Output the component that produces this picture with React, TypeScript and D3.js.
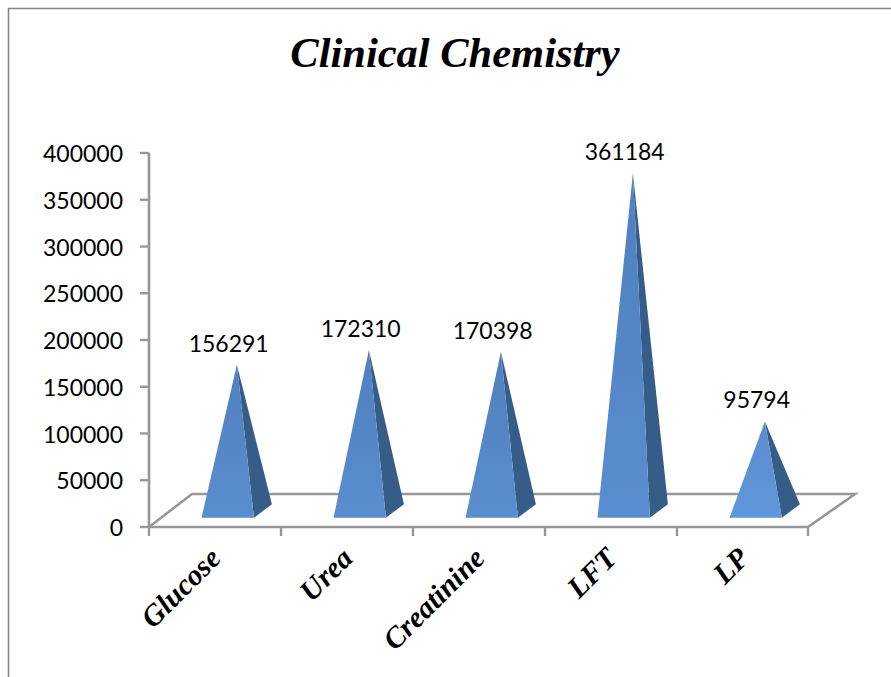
import React from "react";
import * as d3 from "d3";

const categories = ["Glucose", "Urea", "Creatinine", "LFT", "LP"];
const values = [156291, 172310, 170398, 361184, 95794];
const yTicks = [0, 50000, 100000, 150000, 200000, 250000, 300000, 350000, 400000];
const title = "Clinical Chemistry";

const W = 891, H = 677;
const x = d3.scaleBand<string>().domain(categories).range([149, 809]);
const y = d3.scaleLinear().domain([0, 400000]).range([527, 153]);
const depthX = 43, depthY = 33;
const baseHalf = 26.2, pDepthX = 18, pDepthY = 13.7;
const line = d3.line();

export default function App() {
  const grey = "#979797";
  return (
    <svg width={W} height={H} style={{ position: "absolute", left: 0, top: 0, background: "#fff" }}>
      <defs>
        <linearGradient id="front" x1="0" y1="0" x2="0" y2="1">
          <stop offset="0" stopColor="#4f80bf" />
          <stop offset="1" stopColor="#5a8dcf" />
        </linearGradient>
        <linearGradient id="frontLight" x1="0" y1="0" x2="0" y2="1">
          <stop offset="0" stopColor="#5a8dcf" />
          <stop offset="1" stopColor="#6196da" />
        </linearGradient>
      </defs>
      <path d="M8.5 677V8.5H891" fill="none" stroke="#868686" strokeWidth={1.6} />
      <text x={455} y={67} textAnchor="middle" fontFamily="Liberation Serif" fontStyle="italic" fontWeight="bold" fontSize={42.5}>{title}</text>

      {/* floor */}
      <path
        d={line([[149, y(0)], [149 + depthX, y(0) - depthY], [808 + depthX + 4, y(0) - depthY], [808, y(0)]])!}
        fill="none" stroke={grey} strokeWidth={2.6}
      />
      {/* axes */}
      <path d={line([[149, y(400000)], [149, y(0)]])!} fill="none" stroke={grey} strokeWidth={2.6} />
      <path d={line([[149, y(0)], [808, y(0)]])!} fill="none" stroke={grey} strokeWidth={2.6} />
      {yTicks.map((t) => (
        <g key={t}>
          <line x1={140} x2={149} y1={y(t)} y2={y(t)} stroke={grey} strokeWidth={2.4} />
          <text x={123} y={y(t) + 9} textAnchor="end" fontFamily="Lato" fontSize={23}>{t}</text>
        </g>
      ))}
      {[...categories.map((c) => x(c)!), 808].map((tx) => (
        <line key={tx} x1={tx} x2={tx} y1={y(0)} y2={y(0) + 9} stroke={grey} strokeWidth={2.4} />
      ))}

      {/* pyramids */}
      {categories.map((c, i) => {
        const cx = x(c)! + x.bandwidth() / 2 + 21.7;
        const v = values[i];
        const midY = y(0) - 16;
        const apex: [number, number] = [cx + 0.2, midY - (y(0) - y(v))];
        const fl: [number, number] = [cx - pDepthX / 2 - baseHalf, midY + pDepthY / 2];
        const fr: [number, number] = [cx - pDepthX / 2 + baseHalf, midY + pDepthY / 2];
        const br: [number, number] = [fr[0] + pDepthX, fr[1] - pDepthY];
        return (
          <g key={c}>
            <path d={line([apex, fr, br])! + "Z"} fill="#365c88" />
            <path d={line([apex, fl, fr])! + "Z"} fill={c === "LP" ? "url(#frontLight)" : "url(#front)"} />
            <text x={cx - 8} y={apex[1] - 13} textAnchor="middle" fontFamily="Lato" fontSize={23}>{v}</text>
          </g>
        );
      })}

      {/* category labels */}
      {categories.map((c) => {
        const ax = x(c)! + x.bandwidth() / 2 + 7.5;
        return (
          <text
            key={c}
            transform={`translate(${ax},560) rotate(-45)`}
            textAnchor="end"
            fontFamily="Liberation Serif"
            fontStyle="italic"
            fontWeight="bold"
            fontSize={29.5}
          >{c}</text>
        );
      })}
    </svg>
  );
}
